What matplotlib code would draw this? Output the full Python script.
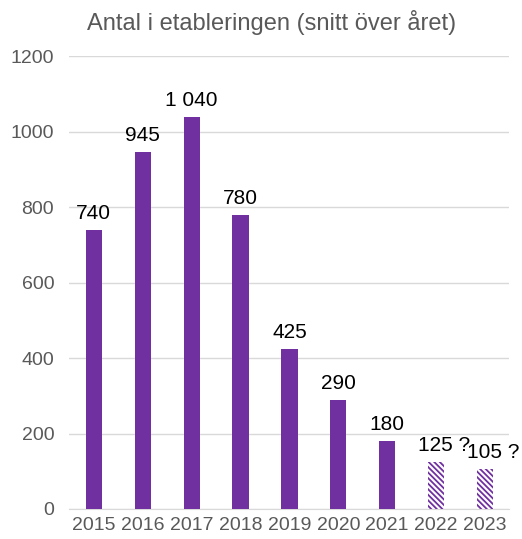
import matplotlib.pyplot as plt

plt.rcParams['font.family'] = ['Liberation Sans', 'DejaVu Sans']
plt.rcParams['hatch.linewidth'] = 1.3

years = ['2015', '2016', '2017', '2018', '2019', '2020', '2021', '2022', '2023']
values = [740, 945, 1040, 780, 425, 290, 180, 125, 105]
labels = ['740', '945', '1 040', '780', '425', '290', '180', '125 ?', '105 ?']
forecast = [False, False, False, False, False, False, False, True, True]

purple = '#7030A0'

fig = plt.figure(figsize=(5.22, 5.39), dpi=100)
ax = fig.add_axes([0.133, 0.0557, 0.843, 0.840])

x = list(range(len(years)))
for i in x:
    if forecast[i]:
        ax.bar(i, values[i], width=0.33, color='white', edgecolor=purple,
               hatch='\\' * 6, linewidth=0, zorder=3)
        # number centred over the bar, the "?" hangs to the right
        dx = 6
    else:
        ax.bar(i, values[i], width=0.33, color=purple, zorder=3)
        dx = 0
    ax.annotate(labels[i], (i, values[i]), xytext=(dx, 5),
                textcoords='offset points', ha='center', va='bottom',
                fontsize=15, color='black')

ax.set_xlim(-0.5, len(years) - 0.5)
ax.set_ylim(0, 1200)
ax.set_yticks(range(0, 1201, 200))
ax.set_xticks(x)
ax.set_xticklabels(years)
ax.tick_params(axis='both', length=0, labelsize=14, colors='#595959')
ax.tick_params(axis='x', pad=6)
ax.tick_params(axis='y', pad=11)
ax.grid(axis='y', color='#D9D9D9', linewidth=1, zorder=0)
for s in ['top', 'right', 'left']:
    ax.spines[s].set_visible(False)
ax.spines['bottom'].set_color('#D9D9D9')

fig.text(0.52, 0.959, 'Antal i etableringen (snitt över året)', ha='center',
         va='center', fontsize=17, color='#595959')

fig.savefig('out.png', dpi=100)
